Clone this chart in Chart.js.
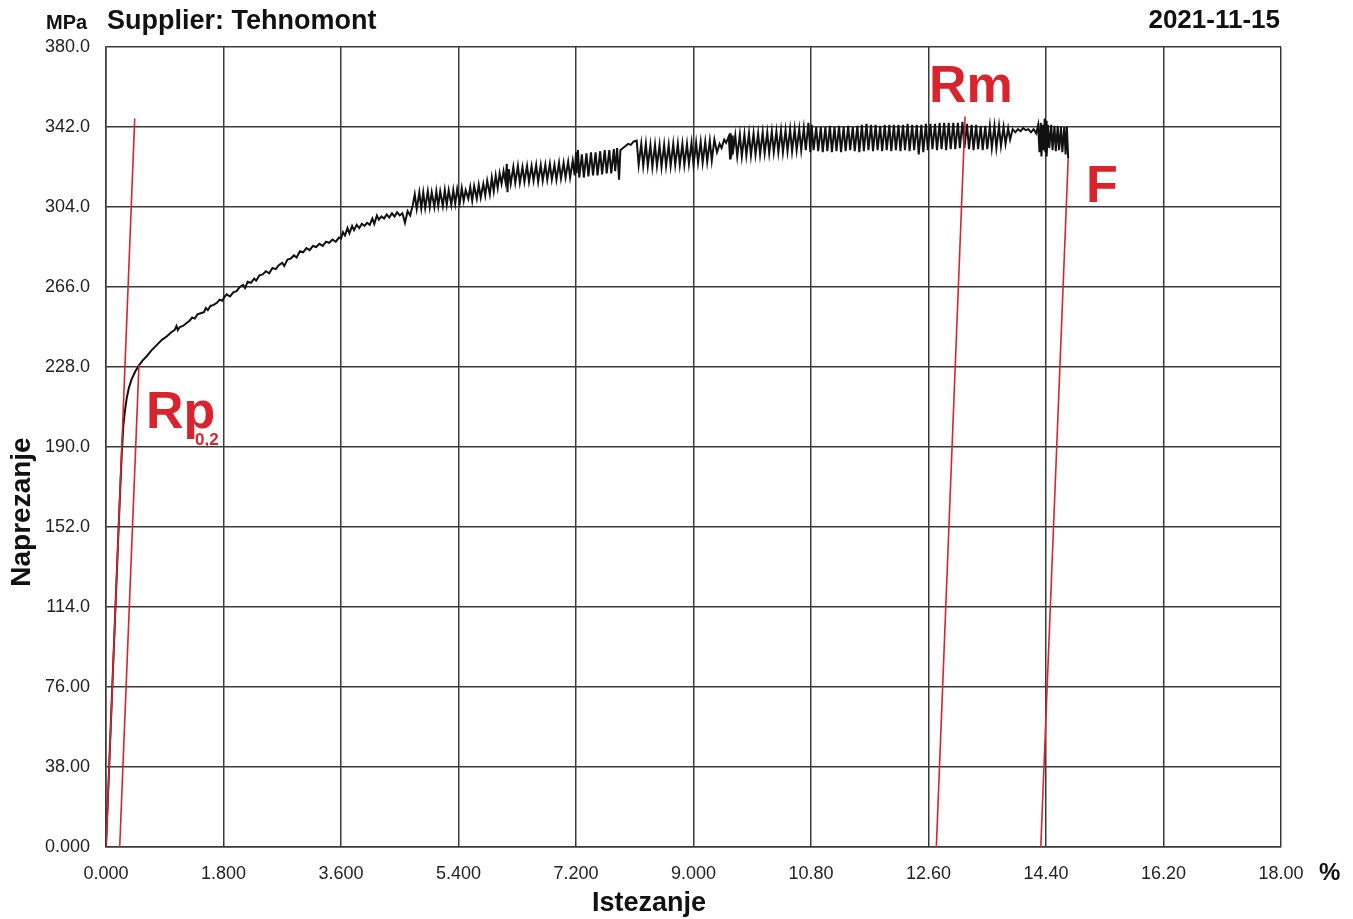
<!DOCTYPE html>
<html>
<head>
<meta charset="utf-8">
<script src="https://cdn.jsdelivr.net/npm/chart.js@4.4.1/dist/chart.umd.min.js"></script>
<style>
  html, body { margin: 0; padding: 0; background: #fff; }
  canvas { display: block; }
</style>
</head>
<body>
<canvas id="tensileChart" width="1353" height="919"></canvas>
<script>
// axis ticks
const xTickValues = [0, 1.8, 3.6, 5.4, 7.2, 9, 10.8, 12.6, 14.4, 16.2, 18];
const xTickLabels = ["0.000", "1.800", "3.600", "5.400", "7.200", "9.000", "10.80", "12.60", "14.40", "16.20", "18.00"];
const yTickValues = [0, 38, 76, 114, 152, 190, 228, 266, 304, 342, 380];
const yTickLabels = ["0.000", "38.00", "76.00", "114.0", "152.0", "190.0", "228.0", "266.0", "304.0", "342.0", "380.0"];

// measured curve [strain %, stress MPa], split by region
const elasticPart = [
    [0, 0], [0.1, 79], [0.2, 157], [0.24, 186], [0.265, 200], [0.29, 207], [0.316, 213],
    [0.35, 218], [0.39, 222], [0.45, 226], [0.51, 229]
];
const hardeningPart = [
    [0.56, 231], [0.62, 233], [0.7, 236], [0.78, 238.5], [0.86, 241], [0.93, 242.5], [1.0, 244.5],
    [1.05, 245.5], [1.08, 247.5], [1.1, 245.5], [1.13, 247], [1.18, 247.5], [1.24, 249], [1.28, 250],
    [1.32, 251.5], [1.36, 251], [1.4, 253], [1.45, 253.5], [1.5, 254], [1.53, 256], [1.56, 255],
    [1.6, 257], [1.65, 257.5], [1.7, 258.5], [1.74, 260], [1.78, 259.5], [1.82, 261.5],
    [1.85, 262.5], [1.9, 261.5], [1.95, 263.5], [2.0, 264], [2.05, 266], [2.1, 267], [2.13, 265.5],
    [2.17, 268.5], [2.22, 268], [2.27, 270], [2.3, 269], [2.35, 271.5], [2.4, 272], [2.45, 273.5],
    [2.5, 272.5], [2.55, 275], [2.6, 274.5], [2.65, 276.5], [2.7, 277.5], [2.73, 276], [2.78, 279],
    [2.83, 279.5], [2.88, 281], [2.92, 280], [2.97, 283], [3.02, 282.5], [3.07, 284.5], [3.12, 283.5],
    [3.17, 285.5], [3.22, 285], [3.27, 286.5], [3.32, 285.5], [3.37, 287.5], [3.42, 287], [3.47, 288.5],
    [3.52, 287.5], [3.57, 289.5], [3.6, 289], [3.63, 292], [3.66, 290.5], [3.7, 294], [3.73, 291.5],
    [3.77, 295], [3.8, 293], [3.84, 295.5], [3.88, 294], [3.92, 296], [3.96, 295], [4.0, 296.5],
    [4.04, 295.5], [4.08, 298.5], [4.11, 296], [4.15, 300], [4.18, 298]
];
const serratedPart = [
    [4.22, 299.5], [4.26, 298.5], [4.3, 300.5], [4.34, 299], [4.38, 301], [4.42, 299.5], [4.46, 301.5],
    [4.5, 300], [4.54, 301], [4.58, 296.5], [4.62, 302], [4.66, 300], [4.7, 305],
    [4.73, 310], [4.76, 303], [4.8, 311], [4.83, 303.5], [4.86, 311], [4.89, 303.5], [4.93, 311.5],
    [4.96, 304], [4.99, 311], [5.03, 304], [5.06, 311.5], [5.09, 304.5], [5.12, 311.5], [5.16, 304.5],
    [5.19, 312], [5.22, 305], [5.25, 312], [5.29, 305], [5.32, 312], [5.35, 305.5], [5.38, 312.5],
    [5.42, 306], [5.45, 313], [5.48, 307], [5.51, 312], [5.55, 308], [5.58, 313.5], [5.61, 307],
    [5.64, 314], [5.68, 308], [5.71, 314.5], [5.74, 308.5], [5.78, 315], [5.81, 309.5], [5.84, 316.5],
    [5.88, 310], [5.91, 318], [5.94, 311.5], [5.97, 319], [6.0, 313], [6.03, 320], [6.06, 315],
    [6.09, 321], [6.12, 316], [6.14, 324.5], [6.15, 311], [6.17, 322],
    [6.2, 315], [6.24, 323], [6.27, 315.5], [6.31, 323.5], [6.34, 315.5], [6.38, 323], [6.41, 316],
    [6.45, 323.5], [6.48, 316], [6.52, 323.5], [6.55, 316.5], [6.59, 324], [6.62, 316], [6.66, 324],
    [6.69, 316.5], [6.73, 324], [6.76, 317], [6.8, 324.5], [6.83, 317], [6.87, 324], [6.9, 317],
    [6.94, 325], [6.97, 317.5], [7.01, 325], [7.04, 318], [7.08, 325.5], [7.11, 318], [7.15, 326],
    [7.18, 319], [7.2, 330], [7.21, 320], [7.23, 331], [7.25, 318],
    [7.29, 329], [7.32, 318], [7.36, 329.5], [7.39, 318.5], [7.43, 330], [7.46, 319], [7.5, 330],
    [7.53, 319], [7.57, 330.5], [7.6, 319.5], [7.64, 331], [7.67, 320], [7.71, 331], [7.74, 320],
    [7.78, 331.5], [7.8, 321], [7.83, 332], [7.86, 317], [7.88, 331],
    [7.92, 332], [7.96, 333], [8.0, 334], [8.04, 333.5], [8.08, 335], [8.13, 335.5],
    [8.16, 324], [8.2, 334], [8.23, 323.5], [8.27, 334], [8.3, 323.5], [8.34, 333.5], [8.37, 323],
    [8.41, 333.5], [8.44, 323.5], [8.48, 333.5], [8.51, 323], [8.55, 333.5], [8.58, 323.5], [8.62, 333.5],
    [8.65, 323.5], [8.69, 334], [8.72, 324], [8.76, 334], [8.79, 324], [8.83, 334], [8.86, 324],
    [8.9, 334], [8.93, 324.5], [8.97, 334.5], [9.0, 324], [9.04, 334.5], [9.07, 325], [9.11, 335],
    [9.14, 325], [9.18, 335], [9.21, 325.5], [9.25, 335.5], [9.28, 326], [9.32, 336],
    [9.36, 330], [9.4, 334], [9.43, 332], [9.47, 336], [9.5, 334.5], [9.54, 337.5],
    [9.56, 327], [9.57, 339], [9.58, 328], [9.59, 338], [9.6, 329]
];
const plateauPart = [
    [9.64, 338], [9.67, 328], [9.71, 338.5], [9.74, 328], [9.78, 338.5], [9.81, 328.5], [9.85, 339],
    [9.88, 328.5], [9.92, 339], [9.95, 329], [9.99, 339], [10.02, 329], [10.06, 339.5], [10.09, 329.5],
    [10.13, 339.5], [10.16, 329.5], [10.2, 340], [10.23, 330], [10.27, 340], [10.3, 330], [10.34, 340.5],
    [10.37, 330], [10.41, 340.5], [10.44, 330.5], [10.48, 341], [10.51, 330.5], [10.55, 341], [10.58, 331],
    [10.62, 341], [10.65, 331], [10.69, 341.5], [10.72, 331], [10.76, 344], [10.79, 330], [10.81, 343],
    [10.84, 331], [10.88, 342], [10.91, 330.5], [10.95, 342], [10.98, 330], [11.02, 342], [11.05, 330.5],
    [11.09, 342.5], [11.12, 330], [11.16, 342], [11.19, 330.5], [11.23, 342.5], [11.26, 330], [11.3, 342],
    [11.33, 330.5], [11.37, 342.5], [11.4, 331], [11.44, 342], [11.47, 330.5], [11.51, 342.5], [11.54, 330],
    [11.58, 343], [11.61, 330.5], [11.65, 343.5], [11.68, 331], [11.72, 343], [11.75, 330.5], [11.79, 343],
    [11.82, 331], [11.86, 342.5], [11.89, 330.5], [11.93, 343], [11.96, 331], [12.0, 343], [12.03, 330.5],
    [12.07, 343], [12.1, 331], [12.14, 343], [12.17, 330.5], [12.21, 343], [12.24, 331], [12.28, 343.5],
    [12.31, 330.5], [12.35, 343], [12.38, 331], [12.42, 343], [12.45, 329], [12.49, 343], [12.52, 330],
    [12.56, 343.5], [12.59, 331], [12.63, 343.5], [12.66, 331.5], [12.7, 343.5], [12.73, 331], [12.77, 344],
    [12.8, 331.5], [12.84, 344], [12.87, 331], [12.91, 344], [12.94, 331.5], [12.98, 344], [13.01, 331.5],
    [13.05, 344], [13.08, 332], [13.12, 344.5], [13.15, 332], [13.19, 343.5], [13.22, 331.5], [13.26, 343],
    [13.29, 331], [13.33, 343], [13.36, 331.5], [13.4, 342.5], [13.43, 331], [13.47, 342.5], [13.5, 331.5],
    [13.54, 342.5], [13.57, 332], [13.61, 342.5], [13.64, 332], [13.68, 342.5], [13.71, 333], [13.75, 342],
    [13.78, 334], [13.82, 341.5], [13.85, 336], [13.89, 341],
    [13.93, 339.5], [13.97, 341], [14.01, 340], [14.05, 341.5], [14.09, 340.5], [14.13, 341], [14.17, 339.5],
    [14.21, 341], [14.25, 339]
];
const fracturePart = [
    [14.28, 343], [14.3, 330], [14.32, 344], [14.33, 328], [14.35, 343], [14.36, 331], [14.38, 346],
    [14.39, 330], [14.4, 345], [14.41, 328], [14.43, 343], [14.45, 332], [14.48, 343], [14.5, 331],
    [14.53, 342.5], [14.55, 330.5], [14.58, 342.5], [14.6, 331], [14.63, 342], [14.65, 330], [14.68, 342],
    [14.7, 329], [14.72, 342], [14.74, 327]
];

// red construction lines [strain %, stress MPa]
const modulusLine = [[0, 0], [0.44, 346]];
const rp02Line = [[0.21, 0], [0.505, 229]];
const rmLine = [[12.72, 0], [13.16, 347]];
const fLine = [[14.32, 0], [14.74, 327]];

const toPoints = arr => arr.map(p => ({ x: p[0], y: p[1] }));
const curve = toPoints([...elasticPart, ...hardeningPart, ...serratedPart, ...plateauPart, ...fracturePart]);

const RED = "#d9242d";
const GRID = "#3a3a3a";
const FONT = "'Liberation Sans', Arial, sans-serif";

function redLine(points) {
    return {
        data: toPoints(points),
        showLine: true,
        borderColor: RED,
        borderWidth: 1.6,
        pointRadius: 0,
        tension: 0
    };
}

const labelsPlugin = {
    id: "labelsPlugin",
    afterDraw(chart) {
        const ctx = chart.ctx;
        ctx.save();
        ctx.fillStyle = "#111";
        ctx.textBaseline = "alphabetic";

        ctx.textAlign = "left";
        ctx.font = "bold 20px " + FONT;
        ctx.fillText("MPa", 46, 29);
        ctx.font = "bold 27px " + FONT;
        ctx.fillText("Supplier: Tehnomont", 107, 29);

        ctx.textAlign = "right";
        ctx.font = "bold 26px " + FONT;
        ctx.fillText("2021-11-15", 1280, 28);

        ctx.textAlign = "left";
        ctx.font = "bold 24px " + FONT;
        ctx.fillText("%", 1319, 880);

        ctx.textAlign = "center";
        ctx.font = "bold 27px " + FONT;
        ctx.fillText("Istezanje", 649, 911);

        ctx.save();
        ctx.translate(22, 512);
        ctx.rotate(-Math.PI / 2);
        ctx.textBaseline = "middle";
        ctx.font = "bold 28px " + FONT;
        ctx.fillText("Naprezanje", 0, 0);
        ctx.restore();

        ctx.fillStyle = RED;
        ctx.textAlign = "left";
        ctx.font = "bold 52px " + FONT;
        ctx.fillText("Rm", 929, 102);
        ctx.fillText("F", 1086, 202);
        ctx.fillText("Rp", 146, 428);
        ctx.font = "bold 17px " + FONT;
        ctx.fillText("0,2", 195, 445);
        ctx.restore();
    }
};

new Chart(document.getElementById("tensileChart"), {
    type: "scatter",
    data: {
        datasets: [
            redLine(modulusLine),
            redLine(rp02Line),
            redLine(rmLine),
            redLine(fLine),
            {
                data: curve,
                showLine: true,
                borderColor: "#111",
                borderWidth: 2,
                pointRadius: 0,
                tension: 0
            }
        ]
    },
    options: {
        responsive: false,
        animation: false,
        events: [],
        layout: { padding: { top: 47, right: 72, bottom: 0, left: 0 } },
        plugins: {
            legend: { display: false },
            tooltip: { enabled: false }
        },
        scales: {
            x: {
                type: "linear",
                min: 0,
                max: 18,
                afterBuildTicks: scale => { scale.ticks = xTickValues.map(v => ({ value: v })); },
                afterFit: scale => { scale.height = 72; },
                grid: { color: GRID, lineWidth: 1.5, drawTicks: false },
                border: { color: GRID, width: 1.5 },
                ticks: {
                    autoSkip: false,
                    maxRotation: 0,
                    padding: 16,
                    color: "#222",
                    font: { family: FONT, size: 18 },
                    callback: (v, i) => xTickLabels[i]
                }
            },
            y: {
                type: "linear",
                min: 0,
                max: 380,
                afterBuildTicks: scale => { scale.ticks = yTickValues.map(v => ({ value: v })); },
                afterFit: scale => { scale.width = 106; },
                grid: { color: GRID, lineWidth: 1.5, drawTicks: false },
                border: { color: GRID, width: 1.5 },
                ticks: {
                    autoSkip: false,
                    padding: 16,
                    color: "#222",
                    font: { family: FONT, size: 18 },
                    callback: (v, i) => yTickLabels[i]
                }
            }
        }
    },
    plugins: [labelsPlugin]
});
</script>
</body>
</html>
